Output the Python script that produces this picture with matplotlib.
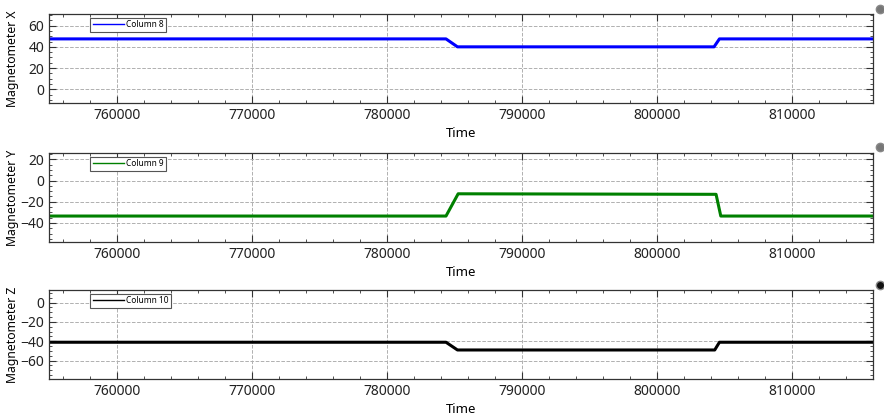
import matplotlib
matplotlib.use("Agg")
import matplotlib.pyplot as plt
from matplotlib.ticker import MultipleLocator
from matplotlib.lines import Line2D

plt.rcParams['font.family'] = ['Noto Sans', 'DejaVu Sans']

# Data (breakpoints)
time_x = [755000, 784400, 785250, 804250, 804650, 816000]
mag_x = [47.5, 47.5, 40.0, 40.0, 47.5, 47.5]

time_y = [755000, 784400, 785300, 804400, 804750, 816000]
mag_y = [-33.5, -33.5, -12.5, -13.0, -33.5, -33.5]

time_z = [755000, 784400, 785250, 804300, 804650, 816000]
mag_z = [-41.0, -41.0, -49.0, -49.0, -41.0, -41.0]

series = [
    (time_x, mag_x, "Column 8", "#0000ff", "Magnetometer X", (-13, 71), [0, 20, 40, 60]),
    (time_y, mag_y, "Column 9", "#008000", "Magnetometer Y", (-58, 26), [-40, -20, 0, 20]),
    (time_z, mag_z, "Column 10", "#000000", "Magnetometer Z", (-79, 13), [-60, -40, -20, 0]),
]

W, H = 884, 417
fig = plt.figure(figsize=(W / 100, H / 100), dpi=100)

tops = [14, 153, 290]
ax_h = 89
left_px, right_px = 49, 872.7

for (tx, ty, lab, col, ylab, ylim, yt), top in zip(series, tops):
    ax = fig.add_axes([left_px / W, 1 - (top + ax_h) / H, (right_px - left_px) / W, ax_h / H])
    ax.plot(tx, ty, color=col, lw=2.2, label=lab)
    ax.set_xlim(755000, 816000)
    ax.set_ylim(*ylim)
    ax.set_xticks([760000, 770000, 780000, 790000, 800000, 810000])
    ax.xaxis.set_minor_locator(MultipleLocator(2000))
    ax.set_yticks(yt)
    ax.yaxis.set_minor_locator(MultipleLocator(5))
    ax.tick_params(which='both', direction='in', top=True, right=True, colors='#333333', labelcolor='#222222')
    ax.tick_params(which='major', length=5, width=0.8, labelsize=10)
    ax.tick_params(which='minor', length=2.5, width=0.6)
    ax.grid(True, which='major', linestyle='--', color='#b0b0b0', lw=0.7)
    for s in ax.spines.values():
        s.set_color('#333333')
        s.set_linewidth(0.9)
    ax.set_xlabel("Time", fontsize=9.5, labelpad=3)
    ax.set_ylabel(ylab, fontsize=8.8)
    ax.yaxis.set_label_coords(-0.036, 0.5)
    leg = ax.legend(loc='upper left', bbox_to_anchor=(0.05, 0.96), fontsize=6,
                    fancybox=False, framealpha=1, edgecolor='#555555',
                    handlelength=3.8, borderpad=0.3, handletextpad=0.2, borderaxespad=0)
    leg.get_frame().set_linewidth(0.8)
    for ln in leg.get_lines():
        ln.set_linewidth(1.0)

# small indicator dots at the right
for y_px, face in [(9, '#777777'), (147, '#777777'), (285, '#111111')]:
    fig.add_artist(Line2D([880 / W], [1 - y_px / H], marker='o', markersize=6,
                          markerfacecolor=face, markeredgecolor='#888888',
                          markeredgewidth=1.0, transform=fig.transFigure))

fig.savefig("out.png", dpi=100)
